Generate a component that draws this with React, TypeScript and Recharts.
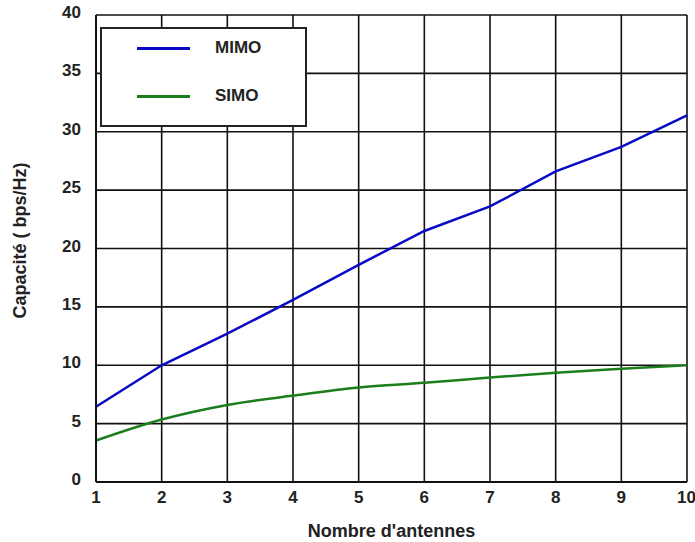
import React from "react";
import {
  LineChart,
  Line,
  XAxis,
  YAxis,
  CartesianGrid,
} from "recharts";

const antennas = [1, 2, 3, 4, 5, 6, 7, 8, 9, 10];
const mimo = [6.45, 10.0, 12.7, 15.6, 18.6, 21.5, 23.6, 26.6, 28.7, 31.4];
const simo = [3.55, 5.35, 6.6, 7.4, 8.1, 8.5, 8.95, 9.35, 9.7, 10.0];
const yTicks = [0, 5, 10, 15, 20, 25, 30, 35, 40];

const data = antennas.map((n, i) => ({ n, mimo: mimo[i], simo: simo[i] }));

const FONT = "'Liberation Sans', Arial, sans-serif";
const tickStyle = { fill: "#222", fontSize: 17, fontWeight: 700, fontFamily: FONT };

const series = [
  { key: "mimo", label: "MIMO", color: "#0a0ac4" },
  { key: "simo", label: "SIMO", color: "#1b7d1b" },
];

// legend box drawn in the top-left corner of the plot
function LegendBox() {
  return (
    <div
      style={{
        position: "absolute",
        left: 100,
        top: 27,
        width: 203,
        height: 96,
        border: "2px solid #222",
        background: "#fff",
        fontFamily: FONT,
      }}
    >
      {series.map((r, i) => (
        <div key={r.key} style={{ position: "absolute", left: 0, top: 9 + i * 48, height: 20, width: "100%" }}>
          <div
            style={{
              position: "absolute",
              left: 35,
              top: 9,
              width: 53,
              height: 3,
              background: r.color,
            }}
          />
          <span
            style={{
              position: "absolute",
              left: 113,
              top: 0,
              fontSize: 17,
              fontWeight: 700,
              color: "#222",
              lineHeight: "20px",
            }}
          >
            {r.label}
          </span>
        </div>
      ))}
    </div>
  );
}

export default function App() {
  return (
    <div style={{ position: "absolute", left: 0, top: 0, width: 695, height: 542, background: "#fff" }}>
      <LineChart width={695} height={542} data={data} margin={{ top: 15, right: 8, left: 0, bottom: 0 }}>
        <CartesianGrid stroke="#111" strokeWidth={1.6} />
        <XAxis
          dataKey="n"
          type="number"
          domain={[1, 10]}
          ticks={antennas}
          height={60}
          tickSize={0}
          tickMargin={9}
          axisLine={{ stroke: "#111", strokeWidth: 2 }}
          tick={tickStyle}
          label={{
            value: "Nombre d'antennes",
            position: "insideBottom",
            offset: 5,
            style: { fill: "#222", fontSize: 18, fontWeight: 700, fontFamily: FONT },
          }}
        />
        <YAxis
          type="number"
          domain={[0, 40]}
          ticks={yTicks}
          width={96}
          tickSize={0}
          tickMargin={15}
          axisLine={{ stroke: "#111", strokeWidth: 2 }}
          tick={{ ...tickStyle, dy: -3 }}
          label={{
            value: "Capacité ( bps/Hz)",
            angle: -90,
            position: "insideLeft",
            offset: 20,
            dy: -8,
            style: { fill: "#222", fontSize: 18, fontWeight: 700, fontFamily: FONT, textAnchor: "middle" },
          }}
        />
        {series.map((s) => (
          <Line
            key={s.key}
            type={s.key === "mimo" ? "linear" : "monotone"}
            dataKey={s.key}
            stroke={s.color}
            strokeWidth={2.5}
            dot={false}
            isAnimationActive={false}
          />
        ))}
      </LineChart>
      <LegendBox />
    </div>
  );
}
